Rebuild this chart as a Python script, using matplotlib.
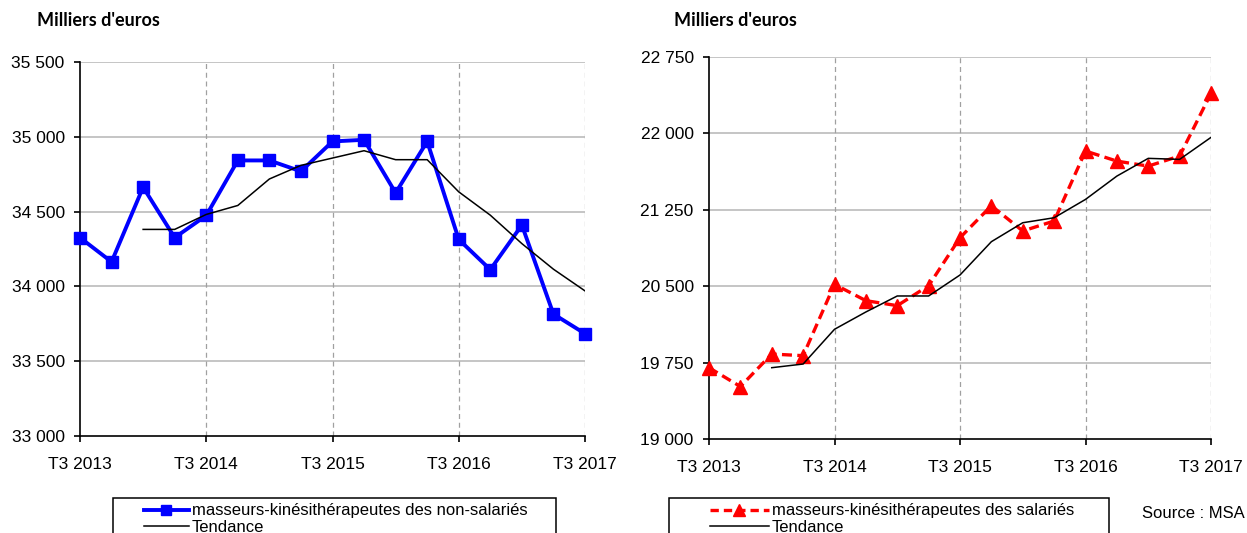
import matplotlib
matplotlib.use("Agg")
import matplotlib.pyplot as plt
import matplotlib.ticker as mticker
from matplotlib.patches import Rectangle
from matplotlib.lines import Line2D

# ── Data ──────────────────────────────────────────────────────
quarters = ["T3 2013", "T4 2013", "T1 2014", "T2 2014", "T3 2014", "T4 2014",
            "T1 2015", "T2 2015", "T3 2015", "T4 2015", "T1 2016", "T2 2016",
            "T3 2016", "T4 2016", "T1 2017", "T2 2017", "T3 2017"]
year_ticks = ["T3 2013", "T3 2014", "T3 2015", "T3 2016", "T3 2017"]

non_salaries = [34326, 34164, 34663, 34326, 34474, 34842, 34842, 34769, 34969,
                34980, 34625, 34969, 34314, 34112, 34410, 33815, 33684]
non_salaries_trend = [None, None, 34381, 34381, 34481, 34541, 34718, 34809, 34858,
                      34907, 34847, 34847, 34632, 34476, 34286, 34115, 33970]

salaries = [19700, 19515, 19834, 19818, 20518, 20358, 20309, 20505, 20976,
            21290, 21042, 21140, 21827, 21728, 21679, 21778, 22393]
salaries_trend = [None, None, 19700, 19736, 20077, 20247, 20404, 20404, 20610,
                  20937, 21123, 21172, 21352, 21581, 21755, 21745, 21961]

label_left = "masseurs-kinésithérapeutes des non-salariés"
label_right = "masseurs-kinésithérapeutes des salariés"

# ── Figure ────────────────────────────────────────────────────
W, H = 1247, 533
plt.rcParams["font.family"] = ["Liberation Sans", "DejaVu Sans"]
fig = plt.figure(figsize=(W / 100, H / 100), dpi=100)


def px_axes(left, right, top, bottom):
    return fig.add_axes([left / W, 1 - bottom / H, (right - left) / W, (bottom - top) / H])


def style_axes(ax, ylim, yticks):
    x = list(range(len(quarters)))
    ax.set_xlim(0, len(quarters) - 1)
    ax.set_ylim(*ylim)
    ax.set_yticks(yticks)
    ax.yaxis.set_major_formatter(mticker.FuncFormatter(lambda v, _: f"{int(v):,}".replace(",", " ")))
    ax.set_xticks([quarters.index(q) for q in year_ticks])
    ax.set_xticklabels(year_ticks)
    for v in yticks[1:]:
        ax.axhline(v, color="#c0c0c0", lw=1.3, zorder=0)
    for q in year_ticks[1:]:
        ax.axvline(quarters.index(q), color="#a0a0a0", lw=0.9, ls=(0, (4, 3)), zorder=0)
    ax.spines["top"].set_visible(False)
    ax.spines["right"].set_visible(False)
    ax.spines["left"].set_linewidth(1.2)
    ax.spines["bottom"].set_linewidth(1.2)
    ax.tick_params(axis="both", direction="out", length=4, width=1.2, labelsize=12.5)
    ax.tick_params(axis="y", pad=7)
    ax.tick_params(axis="x", pad=11)
    return x


# Graph 1: non-salariés
ax1 = px_axes(80, 585, 62, 436)
x = style_axes(ax1, (33000, 35500), [33000, 33500, 34000, 34500, 35000, 35500])
ax1.plot(x, non_salaries, color="#0000ff", lw=2.8, marker="s", markersize=8, zorder=3, clip_on=False)
ax1.plot(x, non_salaries_trend, color="black", lw=1.1, zorder=4)

# Graph 2: salariés
ax2 = px_axes(709, 1211, 57, 439)
x = style_axes(ax2, (19000, 22750), [19000, 19750, 20500, 21250, 22000, 22750])
ax2.plot(x, salaries, color="#ff0000", lw=2.4, ls=(0, (3, 1.6)), marker="^", markersize=9.5,
         zorder=3, clip_on=False)
ax2.plot(x, salaries_trend, color="black", lw=1.1, zorder=4)

# Titles
for tx in (37, 674):
    fig.text(tx / W, 1 - 21 / H, "Milliers d'euros", fontsize=13, fontweight="bold",
             family=["Lato", "DejaVu Sans"], va="center", ha="left")

# Legends (framed boxes as in the spreadsheet export)
for (bx0, bx1) in [(113, 556), (669, 1109)]:
    fig.patches.append(Rectangle((bx0 / W, -0.05), (bx1 - bx0) / W, 0.05 + 1 - 498 / H,
                                 transform=fig.transFigure, fill=False, ec="black", lw=1.1))

h_left = [Line2D([], [], color="#0000ff", lw=2.8, marker="s", markersize=7),
          Line2D([], [], color="black", lw=1.1)]
h_right = [Line2D([], [], color="#ff0000", lw=2.4, ls=(0, (2.5, 1.5)), marker="^", markersize=9),
           Line2D([], [], color="black", lw=1.1)]

for handles, lab, x0, hl in [(h_left, label_left, 141, 2.65), (h_right, label_right, 707, 3.5)]:
    fig.legend(handles, [lab, "Tendance"], loc="upper left",
               bbox_to_anchor=(x0 / W, 1 - 500 / H), frameon=False,
               fontsize=12, handlelength=hl, handletextpad=0.2,
               labelspacing=0.1, borderaxespad=0, borderpad=0.2)

fig.text(1142 / W, 1 - 513 / H, "Source : MSA", fontsize=12, va="center", ha="left")

plt.savefig("out.png", dpi=100)
